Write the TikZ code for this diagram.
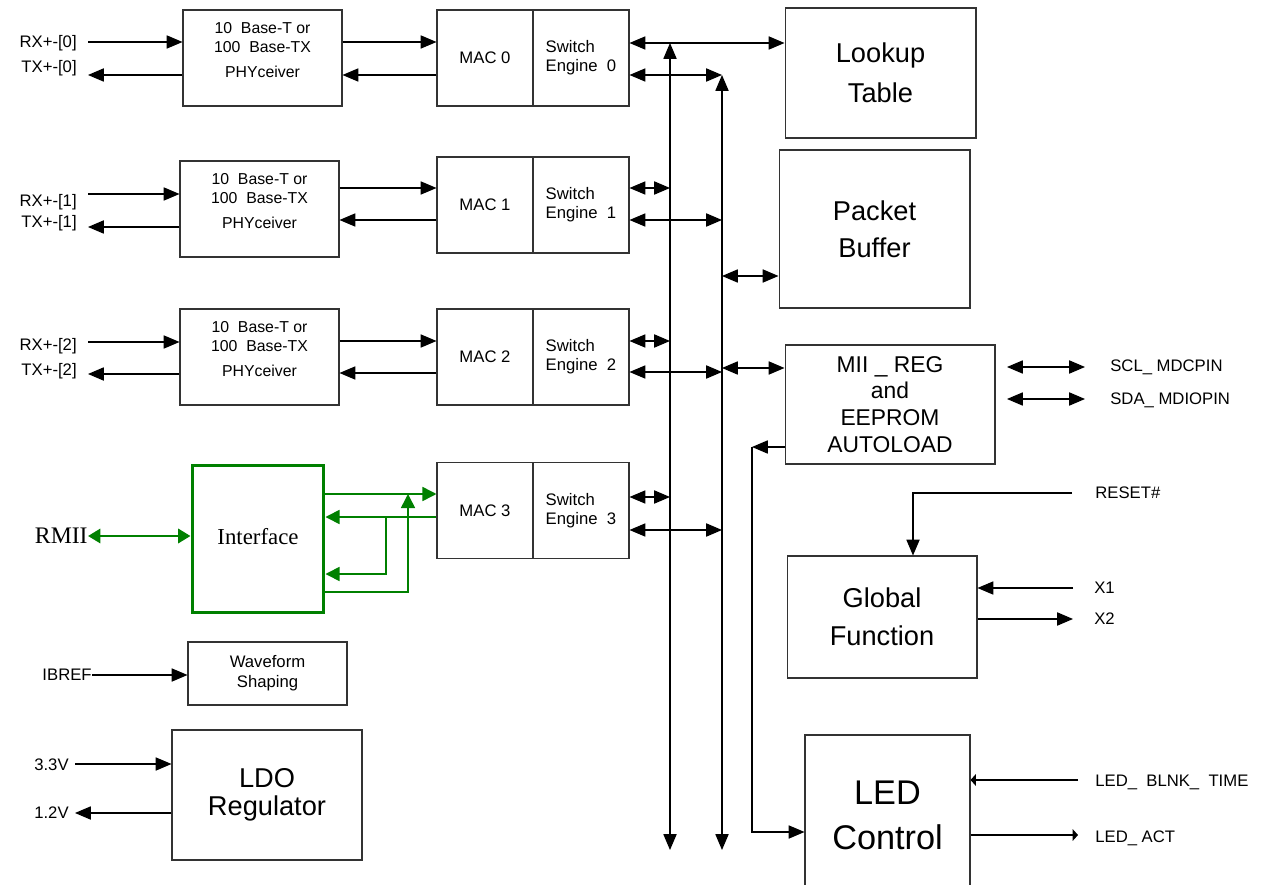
\documentclass[tikz,border=0pt]{standalone}
\usepackage{fontspec}
\setmainfont{Liberation Sans}
\newfontfamily\seriffont{Liberation Serif}
\usetikzlibrary{arrows.meta}
\definecolor{rmiigreen}{RGB}{0,128,0}
\newcommand\fsz[2]{\fontsize{#1}{#2}\selectfont}

\begin{document}
\begin{tikzpicture}[x=0.02cm, y=-0.02cm,
    box/.style={draw=black!80, line width=0.6pt, inner sep=0pt, align=center},
    phybox/.style={box, minimum width=3.18cm, minimum height=1.92cm},
    macbox/.style={box, minimum width=1.92cm, minimum height=1.92cm, font=\fsz{9.5}{11}},
    sebox/.style={box, minimum width=1.92cm, minimum height=1.92cm, align=left, font=\fsz{9.5}{10.8}},
    lbl/.style={font=\fsz{9.5}{11}, inner sep=0pt},
    arr/.style={-{Triangle[length=9pt,width=7.5pt]}, line width=0.65pt},
    dbl/.style={{Triangle[length=9pt,width=7.5pt]}-{Triangle[length=9pt,width=7.5pt]}, line width=0.65pt},
    tarr/.style={-{Triangle[length=3pt,width=6.5pt]}, line width=0.65pt},
    gline/.style={rmiigreen, line width=0.9pt},
    garr/.style={gline, -{Triangle[length=8pt,width=8pt]}}
]
    \useasboundingbox (0,0) rectangle (1268,885);

    % PHY blocks, ports 0-2
    \node[phybox] (phy0) at (262.5,58) {};
    \node[phybox] (phy1) at (259.5,209) {};
    \node[phybox] (phy2) at (259.5,357) {};
    \foreach \i in {0,1,2}
        \node[font=\fsz{9}{10.8}, align=center] at ([yshift=1.6mm]phy\i.center) {10\ \ Base-T or\\100\ \ Base-TX\\[1.2mm]PHYceiver};

    % MAC + switch engine, ports 0-3
    \foreach \i/\y in {0/58, 1/205, 2/357, 3/510.5} {
        \node[macbox] (mac\i) at (485,\y) {MAC \i};
        \node[sebox] (se\i) at (581,\y) {Switch\\Engine\ \ \i};
    }

    % port pins and PHY <-> MAC
    \foreach \i/\yr/\yt/\yu/\yd/\lr/\lt in {0/42/75/42/75/43/68, 1/194/227/188/220/202/223, 2/342/374/341/373/346/371} {
        \coordinate (rx\i) at (88,\yr);
        \coordinate (tx\i) at (88,\yt);
        \coordinate (pu\i) at (400,\yu);
        \coordinate (pd\i) at (400,\yd);
        \node[lbl, anchor=east] at (77,\lr) {RX+-[\i]};
        \node[lbl, anchor=east] at (77,\lt) {TX+-[\i]};
        \draw[arr] (rx\i) -- (rx\i -| phy\i.west);
        \draw[arr] (tx\i -| phy\i.west) -- (tx\i);
        \draw[arr] (pu\i -| phy\i.east) -- (pu\i -| mac\i.west);
        \draw[arr] (pd\i -| mac\i.west) -- (pd\i -| phy\i.east);
    }

    % memory side blocks
    \node[box, minimum width=3.82cm, minimum height=2.6cm, font=\fsz{15.5}{22.7}] (lut) at (880.5,73) {Lookup\\Table};
    \node[box, minimum width=3.82cm, minimum height=3.16cm, font=\fsz{15.5}{21}] (pbuf) at (874.5,229) {Packet\\Buffer};
    \node[box, minimum width=4.2cm, minimum height=2.38cm, font=\fsz{13}{15.3}] (mii) at (890,404.5) {MII \_ REG\\and\\EEPROM\\AUTOLOAD};
    \node[box, minimum width=3.8cm, minimum height=2.44cm, font=\fsz{15.5}{21.5}] (glob) at (882,617) {Global\\Function};
    \node[box, minimum width=3.3cm, minimum height=3.2cm, font=\fsz{19.5}{25.5}] (led) at (887.5,815) {LED\\Control};

    % two vertical buses
    \coordinate (busAt) at (670,43);
    \coordinate (busAb) at (670,850);
    \coordinate (busBt) at (722,75);
    \coordinate (busBb) at (722,850);
    \draw[dbl] (busAt) -- (busAb);
    \draw[dbl] (busBt) -- (busBb);
    \draw[dbl] (se0.east |- busAt) -- (lut.west |- busAt);
    \draw[dbl] (se0.east |- busBt) -- (busBt);
    \foreach \i/\ya/\yb in {1/188/220, 2/341/372, 3/497/530} {
        \path (670,\ya) coordinate (ta\i) (722,\yb) coordinate (tb\i);
        \draw[dbl] (ta\i -| se\i.east) -- (ta\i);
        \draw[dbl] (tb\i -| se\i.east) -- (tb\i);
    }
    \path (722,276) coordinate (pb) (722,368) coordinate (mi);
    \draw[dbl] (pb) -- (pb -| pbuf.west);
    \draw[dbl] (mi) -- (mi -| mii.west);

    % eeprom -> LED control
    \path (752,447) coordinate (ee1) (752,832) coordinate (ee2);
    \draw[arr] (ee1 -| mii.west) -- (ee1);
    \draw[arr] (ee1) -- (ee2) -- (ee2 -| led.west);

    % MII pins
    \path (1007,367) coordinate (scl1) (1085,367) coordinate (scl2);
    \path (1007,399) coordinate (sda1) (1085,399) coordinate (sda2);
    \draw[dbl] (scl1) -- (scl2);
    \draw[dbl] (sda1) -- (sda2);
    \node[lbl, anchor=west] at (1110,367) {SCL\_ MDCPIN};
    \node[lbl, anchor=west] at (1110,400) {SDA\_ MDIOPIN};

    % global function pins
    \path (1072,493) coordinate (rst) (913,493) coordinate (rstdn);
    \node[lbl, anchor=west] at (1095,493) {RESET\#};
    \draw[arr] (rst) -- (rstdn) -- (rstdn |- glob.north);
    \path (1073,588) coordinate (x1) (1073,619) coordinate (x2);
    \draw[arr] (x1) -- (x1 -| glob.east);
    \draw[arr] (x2 -| glob.east) -- (x2);
    \node[lbl, anchor=west] at (1094,588) {X1};
    \node[lbl, anchor=west] at (1094,619) {X2};

    % LED pins
    \path (1078,780) coordinate (blnk) (1078,835) coordinate (act);
    \draw[tarr] (blnk) -- (blnk -| led.east);
    \draw[tarr] (act -| led.east) -- (act);
    \node[lbl, anchor=west] at (1095,782) {LED\_\ \ BLNK\_\ \ TIME};
    \node[lbl, anchor=west] at (1095,838) {LED\_\ ACT};

    % RMII interface (green)
    \node[box, draw=rmiigreen, line width=1.7pt, minimum width=2.64cm, minimum height=2.96cm, font=\seriffont\fsz{13}{15}] (iface) at (258,539) {\raisebox{1mm}{Interface}};
    \node[font=\seriffont\fsz{13.5}{16}, inner sep=0pt, anchor=east] (rmii) at (88,536) {RMII};
    \draw[rmiigreen, line width=1.6pt, {Triangle[length=7pt,width=8pt]}-{Triangle[length=7pt,width=8pt]}] (rmii.east) -- (iface.west |- rmii.east);
    \path (437,494) coordinate (g1) (440,517) coordinate (g2) (386,574) coordinate (g3) (408,592) coordinate (g4);
    \draw[garr] (g1 -| iface.east) -- (g1 -| mac3.west);
    \draw[garr] (g2 -| mac3.west) -- (g2 -| iface.east);
    \draw[garr] (g3 |- g2) -- (g3) -- (g3 -| iface.east);
    \draw[garr] (g4 -| iface.east) -- (g4) -- (g4 |- g1);

    % waveform shaping and LDO
    \node[box, minimum width=3.18cm, minimum height=1.26cm, font=\fsz{9.5}{11.3}] (wave) at (267.5,673.5) {Waveform\\Shaping};
    \node[lbl, anchor=east] (ibref) at (92,675) {IBREF};
    \draw[arr] (ibref.east) -- (wave.west |- ibref.east);
    \node[box, minimum width=3.8cm, minimum height=2.6cm, font=\fsz{15.5}{16}] (ldo) at (267,795) {LDO\\Regulator};
    \path (75,764) coordinate (v33) (75,813) coordinate (v12);
    \node[lbl, anchor=east] at (69,765) {3.3V};
    \node[lbl, anchor=east] at (69,813) {1.2V};
    \draw[arr] (v33) -- (v33 -| ldo.west);
    \draw[arr] (v12 -| ldo.west) -- (v12);
\end{tikzpicture}
\end{document}
